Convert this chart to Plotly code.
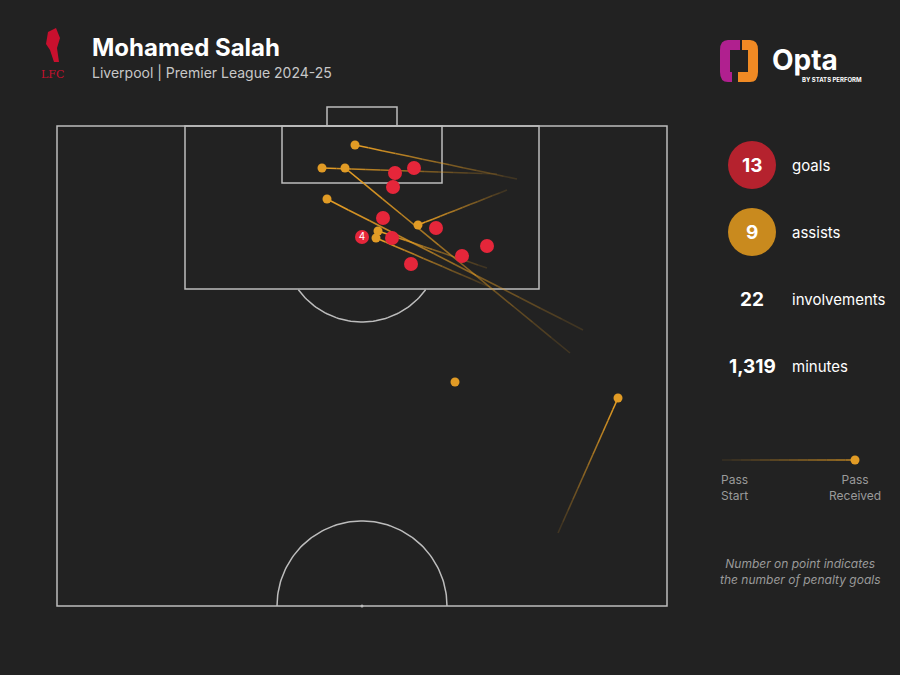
import numpy as np
import plotly.graph_objects as go

# goal locations (pitch pixel units)
goal_x = [395, 414, 393, 383, 436, 392, 411, 462, 487]
goal_y = [173, 168, 187, 218, 228, 238, 264, 256, 246]
pen_x, pen_y, pen_goals = [362], [237], [4]

# assists: where the pass was received and where it started
recv_x = [355, 322, 345, 327, 418, 378, 376, 455, 618]
recv_y = [145, 168, 168, 199, 225, 231, 238, 382, 398]
start_x = [517, 497, 570, 583, 507, 487, 490, 455, 558]
start_y = [179, 174, 353, 330, 190, 268, 287, 382, 533]

stats = [("13", "goals"), ("9", "assists"), ("22", "involvements"), ("1,319", "minutes")]

BG = "#222222"
LINE = "#bdbdbd"
GOLD = "#e19b25"
RED = "#e5263a"

fig = go.Figure()
shapes = []

def rect(x0, y0, x1, y1):
    shapes.append(dict(type="rect", x0=x0, y0=y0, x1=x1, y1=y1, line=dict(color=LINE, width=1.5), layer="below"))

rect(57, 126, 667, 606)
rect(185, 126, 539, 289)
rect(282, 126, 442, 183)
rect(327, 107, 397, 126)

# penalty arc outside the box
t = np.linspace(0, np.pi, 100)
ax_ = 362 + 79 * np.cos(t)
ay_ = 243 + 79 * np.sin(t)
m = ay_ >= 289
fig.add_trace(go.Scatter(x=ax_[m], y=ay_[m], mode="lines", line=dict(color=LINE, width=1.5), hoverinfo="skip"))
# centre circle
ax2 = 362 + 85 * np.cos(t)
ay2 = 606 - 85 * np.sin(t)
fig.add_trace(go.Scatter(x=ax2, y=ay2, mode="lines", line=dict(color=LINE, width=1.5), hoverinfo="skip"))
fig.add_trace(go.Scatter(x=[362], y=[606], mode="markers", marker=dict(color=LINE, size=3), hoverinfo="skip"))

# fading pass lines
def fade_line(x0, y0, x1, y1, n=12, width=1.6):
    for i in range(n):
        a, b = i / n, (i + 1) / n
        op = 0.08 + 0.92 * b
        fig.add_trace(go.Scatter(x=[x0 + (x1 - x0) * a, x0 + (x1 - x0) * b],
                                 y=[y0 + (y1 - y0) * a, y0 + (y1 - y0) * b],
                                 mode="lines", line=dict(color=GOLD, width=width),
                                 opacity=op, hoverinfo="skip"))

for sx, sy, rx, ry in zip(start_x, start_y, recv_x, recv_y):
    if (sx, sy) != (rx, ry):
        fade_line(sx, sy, rx, ry)

fig.add_trace(go.Scatter(x=goal_x, y=goal_y, mode="markers", marker=dict(color=RED, size=14), hoverinfo="skip"))
fig.add_trace(go.Scatter(x=pen_x, y=pen_y, mode="markers+text", text=[str(v) for v in pen_goals],
                         textfont=dict(color="white", size=10, family="Inter"),
                         marker=dict(color=RED, size=14), hoverinfo="skip"))
fig.add_trace(go.Scatter(x=recv_x, y=recv_y, mode="markers", marker=dict(color=GOLD, size=9), hoverinfo="skip"))

# stats panel
stat_y = [165, 232, 299, 366]
fig.add_trace(go.Scatter(x=[752, 752], y=stat_y[:2], mode="markers",
                         marker=dict(color=["#b5222e", "#c98a1e"], size=48), hoverinfo="skip"))
annotations = []
for (num, lab), y in zip(stats, stat_y):
    annotations.append(dict(x=752, y=y, text="<b>" + num + "</b>", showarrow=False, xanchor="center",
                            font=dict(color="white", size=19, family="Inter")))
    annotations.append(dict(x=790, y=y, text=lab, showarrow=False, xanchor="left",
                            font=dict(color="white", size=15, family="Inter")))

# legend line
fade_line(722, 460, 855, 460, n=14, width=1.2)
fig.add_trace(go.Scatter(x=[855], y=[460], mode="markers", marker=dict(color=GOLD, size=9), hoverinfo="skip"))
for x, txt in [(734, "Pass<br>Start"), (855, "Pass<br>Received")]:
    annotations.append(dict(x=x, y=487, text=txt, showarrow=False, xanchor="center",
                            font=dict(color="#9a9a9a", size=12, family="Inter")))
annotations.append(dict(x=800, y=571, text="<i>Number on point indicates<br>the number of penalty goals</i>",
                        showarrow=False, font=dict(color="#9a9a9a", size=12, family="Inter")))

# header
annotations.append(dict(x=90, y=47, text="<b>Mohamed Salah</b>", showarrow=False, xanchor="left",
                        font=dict(color="white", size=24, family="Inter")))
annotations.append(dict(x=90, y=72, text="Liverpool | Premier League 2024-25", showarrow=False, xanchor="left",
                        font=dict(color="#c8c8c8", size=14, family="Inter")))
annotations.append(dict(x=52, y=74, text="LFC", showarrow=False,
                        font=dict(color="#c8102e", size=11, family="DejaVu Serif")))
shapes.append(dict(type="path", path="M 48 32 L 56 28 L 60 38 L 57 48 L 59 62 L 54 62 L 50 50 L 46 44 Z",
                   fillcolor="#c8102e", line=dict(width=0)))
# opta logo
shapes.append(dict(type="path", path="M 740 40 L 728 40 Q 720 40 720 50 L 720 72 Q 720 82 728 82 L 732 82 L 732 72 L 730 72 L 730 50 L 740 50 Z",
                   fillcolor="#b0208f", line=dict(width=0)))
shapes.append(dict(type="path", path="M 742 40 L 750 40 Q 758 40 758 50 L 758 72 Q 758 82 750 82 L 738 82 L 738 72 L 748 72 L 748 50 L 742 50 Z",
                   fillcolor="#f08a24", line=dict(width=0)))
annotations.append(dict(x=770, y=60, text="<b>Opta</b>", showarrow=False, xanchor="left",
                        font=dict(color="white", size=28, family="Inter")))
annotations.append(dict(x=864, y=79, text="<b>BY STATS PERFORM</b>", showarrow=False, xanchor="right",
                        font=dict(color="white", size=6, family="Inter")))

fig.update_layout(width=900, height=675, margin=dict(l=0, r=0, t=0, b=0),
                  paper_bgcolor=BG, plot_bgcolor=BG, showlegend=False,
                  shapes=shapes, annotations=annotations,
                  xaxis=dict(range=[0, 900], visible=False, fixedrange=True),
                  yaxis=dict(range=[675, 0], visible=False, fixedrange=True))
fig.write_html("out.html", config={"displayModeBar": False})

# drop the default page margin so the figure fills the window
with open("out.html") as f:
    html = f.read()
html = html.replace("<head>", "<head><style>html,body{margin:0;padding:0;background:#222222;overflow:hidden}</style>", 1)
with open("out.html", "w") as f:
    f.write(html)
